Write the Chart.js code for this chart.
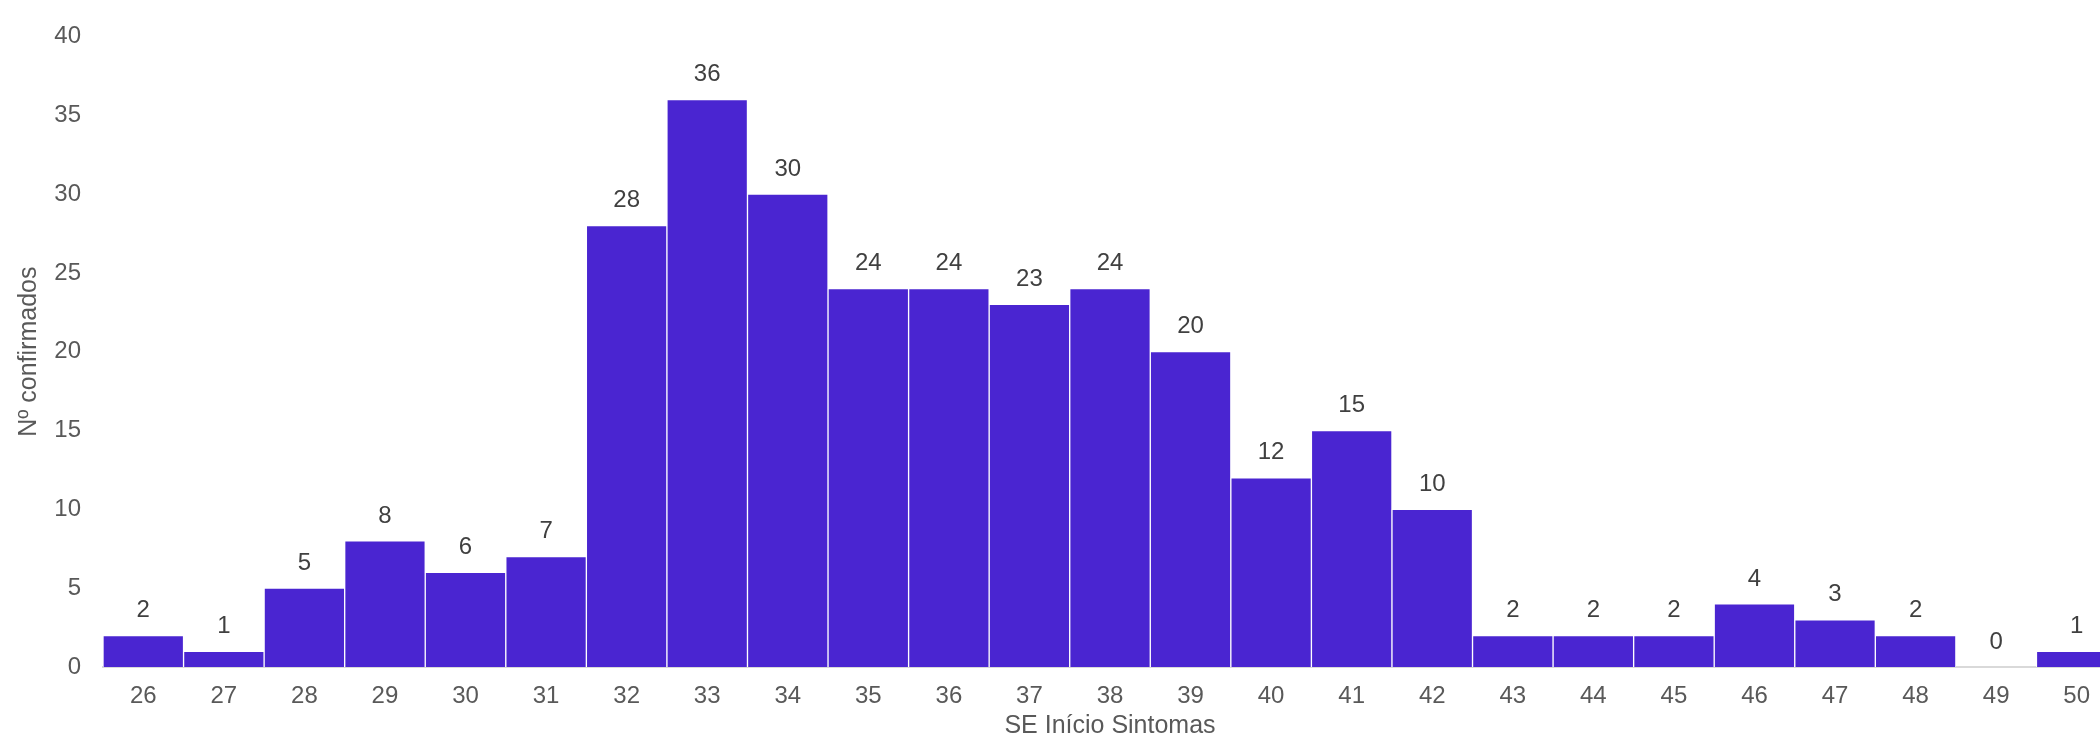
<!DOCTYPE html>
<html>
<head>
<meta charset="utf-8">
<script src="https://cdn.jsdelivr.net/npm/chart.js@4"></script>
<style>
  html, body { margin: 0; padding: 0; background: #fff; overflow: hidden; }
  /* plot runs a bit past the right edge, like the original (last bar is clipped) */
  #wrap { width: 2117px; height: 736px; }
</style>
</head>
<body>
<div id="wrap"><canvas id="seChart"></canvas></div>
<script>
const semanas = ['26','27','28','29','30','31','32','33','34','35','36','37','38','39','40','41','42','43','44','45','46','47','48','49','50'];
const confirmados = [2, 1, 5, 8, 6, 7, 28, 36, 30, 24, 24, 23, 24, 20, 12, 15, 10, 2, 2, 2, 4, 3, 2, 0, 1];
const yTicks = [0, 5, 10, 15, 20, 25, 30, 35, 40];

// labels above each bar
const barValues = {
  id: 'barValues',
  afterDatasetsDraw(chart) {
    const ctx = chart.ctx;
    const meta = chart.getDatasetMeta(0);
    ctx.save();
    ctx.font = '24px "Liberation Sans", Arial, sans-serif';
    ctx.fillStyle = '#404040';
    ctx.textAlign = 'center';
    ctx.textBaseline = 'middle';
    meta.data.forEach((bar, i) => {
      ctx.fillText(String(confirmados[i]), bar.x, bar.y - 25);
    });
    ctx.restore();
  }
};

const ctx = document.getElementById('seChart');
new Chart(ctx, {
  type: 'bar',
  data: {
    labels: semanas,
    datasets: [{
      label: 'Nº confirmados',
      data: confirmados,
      backgroundColor: '#4a25d1',
      borderColor: '#ffffff',
      borderWidth: 1,
      barPercentage: 1,
      categoryPercentage: 1
    }]
  },
  plugins: [barValues],
  options: {
    responsive: true,
    maintainAspectRatio: false,
    animation: false,
    layout: { padding: { top: 31, right: 0, bottom: 0, left: 0 } },
    plugins: {
      legend: { display: false },
      tooltip: { enabled: false }
    },
    scales: {
      x: {
        grid: { display: false, drawTicks: false },
        border: { display: true, color: '#d9d9d9', width: 2 },
        ticks: { color: '#595959', font: { family: '"Liberation Sans", Arial, sans-serif', size: 24 }, padding: 15, maxRotation: 0, autoSkip: false },
        title: {
          display: true, text: 'SE Início Sintomas', color: '#595959',
          font: { family: '"Liberation Sans", Arial, sans-serif', size: 25, lineHeight: 1 },
          padding: { top: 0, bottom: -3 }
        },
        afterFit(scale) { scale.height = 69; }
      },
      y: {
        min: 0, max: 40,
        afterBuildTicks(scale) { scale.ticks = yTicks.map(v => ({ value: v })); },
        grid: { display: false, drawTicks: false },
        border: { display: false },
        ticks: { color: '#595959', font: { family: '"Liberation Sans", Arial, sans-serif', size: 24 }, padding: 22 },
        title: {
          display: true, text: 'Nº confirmados', color: '#595959',
          font: { family: '"Liberation Sans", Arial, sans-serif', size: 25, lineHeight: 1.2 },
          padding: { top: 14, bottom: 0 }
        },
        afterFit(scale) { scale.width = 103; }
      }
    }
  }
});
</script>
</body>
</html>
